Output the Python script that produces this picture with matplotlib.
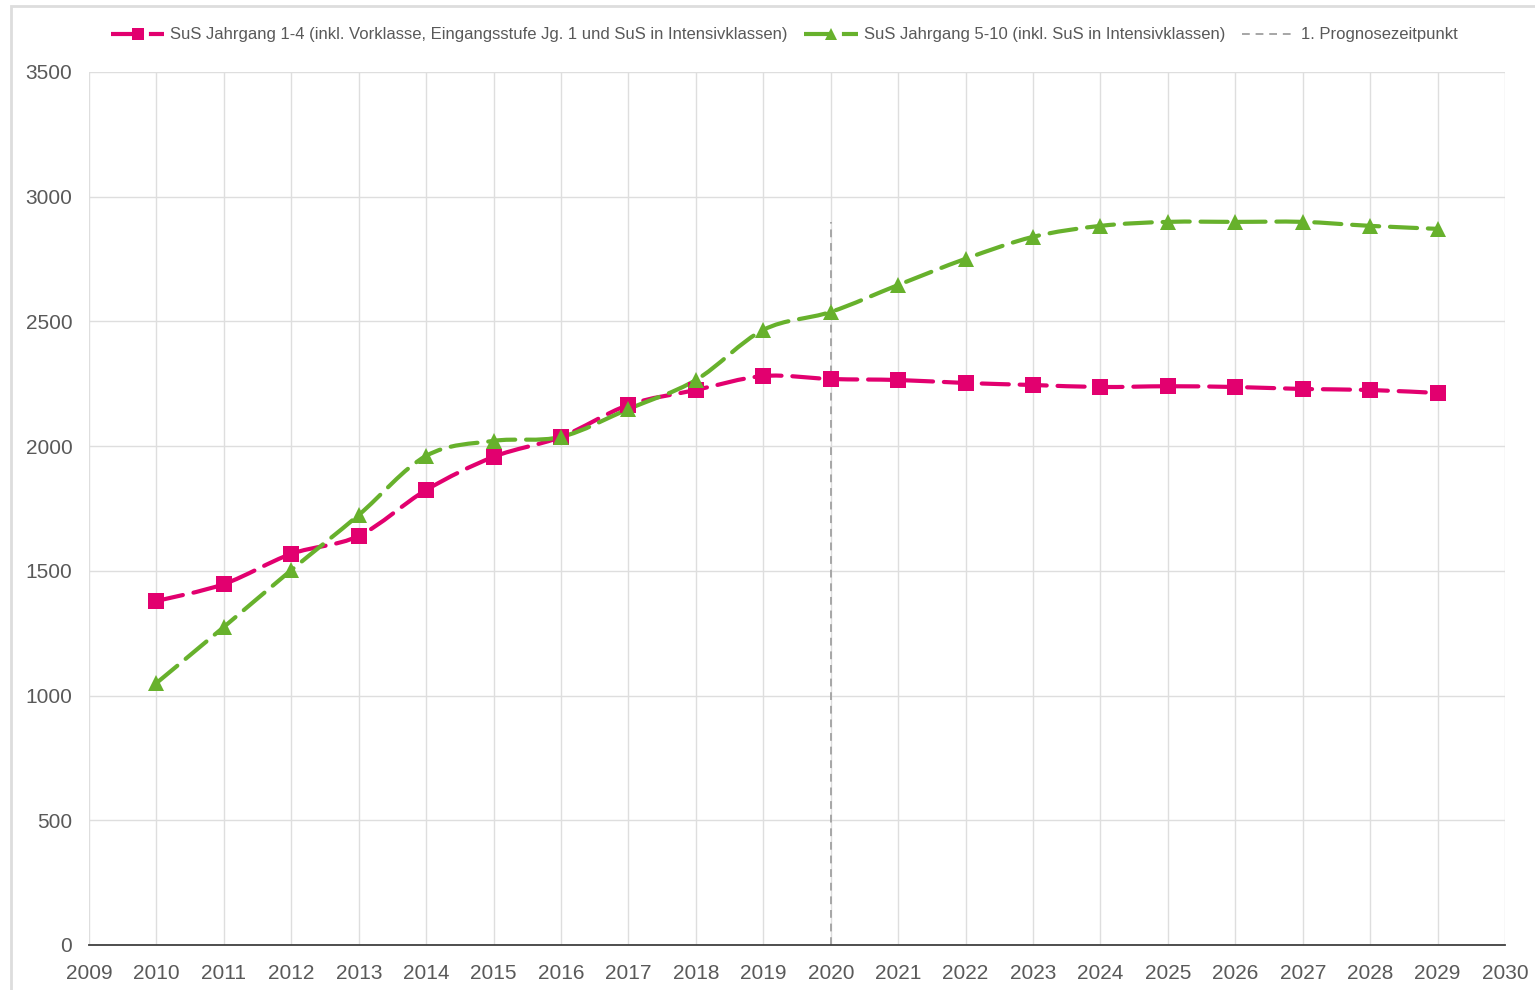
import numpy as np
import matplotlib
matplotlib.use("Agg")
import matplotlib.pyplot as plt
from matplotlib.path import Path
from matplotlib.patches import PathPatch, Rectangle
from matplotlib.lines import Line2D

plt.rcParams['font.family'] = ['Liberation Sans', 'DejaVu Sans']

# data
jahre = [2010, 2011, 2012, 2013, 2014, 2015, 2016, 2017, 2018, 2019,
         2020, 2021, 2022, 2023, 2024, 2025, 2026, 2027, 2028, 2029]
sus_1_4 = [1379, 1447, 1568, 1640, 1824, 1957, 2037, 2165, 2225, 2281,
           2269, 2265, 2253, 2245, 2237, 2240, 2237, 2229, 2225, 2213]
sus_5_10 = [1050, 1275, 1503, 1724, 1961, 2021, 2037, 2149, 2265, 2466,
            2538, 2646, 2751, 2839, 2883, 2899, 2899, 2899, 2883, 2871]
prognose_jahr = 2020
prognose_hoehe = 2900

label_1_4 = 'SuS Jahrgang 1-4 (inkl. Vorklasse, Eingangsstufe Jg. 1 und SuS in Intensivklassen)'
label_5_10 = 'SuS Jahrgang 5-10 (inkl. SuS in Intensivklassen)'
label_prog = '1. Prognosezeitpunkt'

PINK = '#E2006F'
GREEN = '#67B12C'
GRAU = '#595959'
DASH = (0, (6.5, 2.6))


def smooth_path(x, y):
    # Bezier curve through the points, like Excel's "smoothed line"
    p = np.column_stack([x, y]).astype(float)
    n = len(p)
    verts = [p[0]]
    codes = [Path.MOVETO]
    for i in range(n - 1):
        prev = p[i - 1] if i > 0 else p[i]
        nxt = p[i + 2] if i + 2 < n else p[i + 1]
        c1 = p[i] + (p[i + 1] - prev) / 6.0
        c2 = p[i + 1] - (nxt - p[i]) / 6.0
        verts += [c1, c2, p[i + 1]]
        codes += [Path.CURVE4] * 3
    return Path(verts, codes)


fig = plt.figure(figsize=(15.35, 9.9), dpi=100)
ax = fig.add_axes([0.058, 0.0455, 0.9225, 0.8818])

# outer chart frame
fig.patches.append(Rectangle((11 / 1535, -0.05), 1.1, 1.05 - 6 / 990,
                             transform=fig.transFigure, fill=False,
                             edgecolor='#DDDDDD', lw=2, zorder=0))

for yy, col, mk, ms in [(sus_1_4, PINK, 's', 11.5), (sus_5_10, GREEN, '^', 11.5)]:
    ax.add_patch(PathPatch(smooth_path(jahre, yy), fill=False, edgecolor=col,
                           lw=3.0, linestyle=DASH, capstyle='round', zorder=3))
    ax.plot(jahre, yy, linestyle='none', marker=mk, ms=ms, color=col,
            markeredgewidth=0, zorder=4)

ax.plot([prognose_jahr, prognose_jahr], [0, prognose_hoehe], color='#A6A6A6',
        lw=1.4, linestyle=(0, (4, 3)), zorder=2)

ax.set_xlim(2009, 2030)
ax.set_ylim(0, 3500)
ax.set_xticks(range(2009, 2031))
ax.set_yticks(range(0, 3501, 500))
ax.grid(True, color='#DEDEDE', lw=1)
ax.set_axisbelow(True)
for s in ['left', 'right', 'top']:
    ax.spines[s].set_visible(False)
ax.spines['bottom'].set_color('#404040')
ax.spines['bottom'].set_linewidth(1.3)
ax.tick_params(length=0, labelsize=15, labelcolor=GRAU)
ax.tick_params(axis='y', pad=12)
ax.tick_params(axis='x', pad=14)

handles = [
    Line2D([], [], color=PINK, lw=3, linestyle=DASH, marker='s', ms=8, markeredgewidth=0),
    Line2D([], [], color=GREEN, lw=3, linestyle=DASH, marker='^', ms=8, markeredgewidth=0),
    Line2D([], [], color='#A6A6A6', lw=1.4, linestyle=(0, (4, 3))),
]
fig.legend(handles, [label_1_4, label_5_10, label_prog], loc='center',
           bbox_to_anchor=(0.511, 1 - 35 / 990), ncol=3, frameon=False,
           fontsize=12, labelcolor=GRAU, handlelength=3.2, handletextpad=0.35,
           columnspacing=1.0)

fig.savefig('out.png', dpi=100)
